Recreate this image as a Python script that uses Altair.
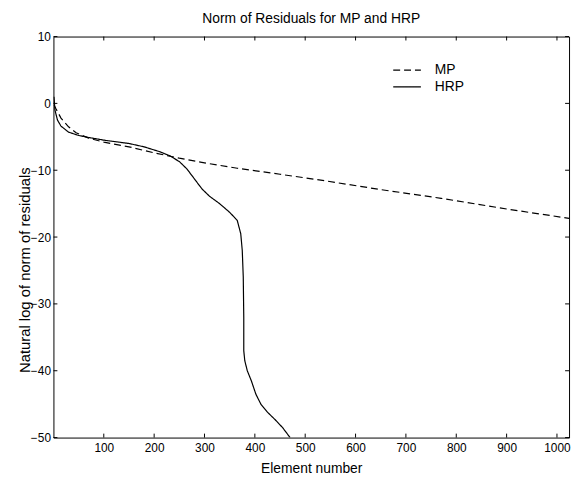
import altair as alt
import pandas as pd

# ---- data ----
hrp_x = [1, 3, 8, 15, 30, 50, 70, 100, 150, 180, 210, 230, 250, 265, 280, 295, 310, 330, 350, 365,
         372, 375, 377, 378, 378, 380, 385, 393, 402, 412, 425, 440, 455, 465, 470]
hrp_y = [1.0, -1.0, -2.5, -3.4, -4.3, -4.8, -5.1, -5.5, -6.0, -6.5, -7.2, -7.8, -8.7, -9.8, -11.3,
         -12.8, -13.9, -15.0, -16.3, -17.5, -19.5, -22.0, -26.0, -32.0, -37.0, -38.5, -40.0, -41.5,
         -43.5, -45.0, -46.2, -47.3, -48.5, -49.5, -50.0]

mp_x = [1, 5, 15, 30, 45, 70, 100, 150, 200, 250, 300, 365, 450, 541, 650, 770, 900, 1024]
mp_y = [-0.2, -0.8, -2.2, -3.5, -4.4, -5.2, -5.8, -6.5, -7.4, -8.2, -8.9, -9.7, -10.6, -11.6,
        -12.9, -14.2, -15.8, -17.2]

methods = ["MP", "HRP"]
x_ticks = [100, 200, 300, 400, 500, 600, 700, 800, 900, 1000]
y_ticks = [10, 0, -10, -20, -30, -40, -50]
x_domain = [0, 1024]
y_domain = [-50, 10]

W, H = 522, 406
FONT = "Liberation Sans"

df = pd.DataFrame({
    "element": mp_x + hrp_x,
    "value": mp_y + hrp_y,
    "method": ["MP"] * len(mp_x) + ["HRP"] * len(hrp_x),
    "idx": list(range(len(mp_x))) + list(range(len(hrp_x))),
})

x_scale = alt.Scale(domain=x_domain, nice=False, zero=False)
y_scale = alt.Scale(domain=y_domain, nice=False, zero=False)

lines = alt.Chart(df).mark_line(color="black", strokeWidth=1.2, clip=True).encode(
    x=alt.X("element:Q", scale=x_scale,
            axis=alt.Axis(values=x_ticks, format="d", title="Element number", labelPadding=5,
                          titlePadding=8)),
    y=alt.Y("value:Q", scale=y_scale,
            axis=alt.Axis(values=y_ticks, format="d", title="Natural log of norm of residuals",
                          labelPadding=3, titleX=-21, titleY=236, titleBaseline="bottom",
                          titleFontSize=15)),
    strokeDash=alt.StrokeDash(
        "method:N",
        scale=alt.Scale(domain=methods, range=[[7, 4], [1, 0]]),
        legend=alt.Legend(title=None, orient="none", legendX=350, legendY=26, padding=0,
                          symbolType="M-2,0L2,0", symbolSize=196, symbolStrokeColor="black",
                          symbolFillColor="transparent", symbolStrokeWidth=1.2,
                          labelFontSize=14, labelFont=FONT, labelColor="black",
                          labelOffset=20, rowPadding=2),
    ),
    order=alt.Order("idx:Q"),
)

xt = pd.DataFrame({"element": x_ticks})
yt = pd.DataFrame({"value": y_ticks})
TL = 4
tick_bottom = alt.Chart(xt).mark_rule(color="black").encode(
    x=alt.X("element:Q", scale=x_scale), y=alt.value(H), y2=alt.value(H - TL))
tick_top = alt.Chart(xt).mark_rule(color="black").encode(
    x=alt.X("element:Q", scale=x_scale), y=alt.value(0), y2=alt.value(TL))
tick_left = alt.Chart(yt).mark_rule(color="black").encode(
    y=alt.Y("value:Q", scale=y_scale), x=alt.value(0), x2=alt.value(TL))
tick_right = alt.Chart(yt).mark_rule(color="black").encode(
    y=alt.Y("value:Q", scale=y_scale), x=alt.value(W), x2=alt.value(W - TL))

chart = alt.layer(lines, tick_bottom, tick_top, tick_left, tick_right).properties(
    width=W, height=H,
    title=alt.Title("Norm of Residuals for MP and HRP", fontSize=14, font=FONT,
                    fontWeight="normal", color="black", anchor="middle", offset=5),
    autosize=alt.AutoSizeParams(type="none"),
    padding={"left": 46, "top": 26, "right": 4, "bottom": 36},
    background="white",
).configure_view(stroke="black", strokeWidth=1).configure_axis(
    domain=False, ticks=False, grid=False,
    labelFont=FONT, labelFontSize=12, labelColor="black",
    titleFont=FONT, titleFontSize=14, titleFontWeight="normal", titleColor="black",
)

chart.save("out.html", embed_options={"renderer": "svg", "actions": False})
